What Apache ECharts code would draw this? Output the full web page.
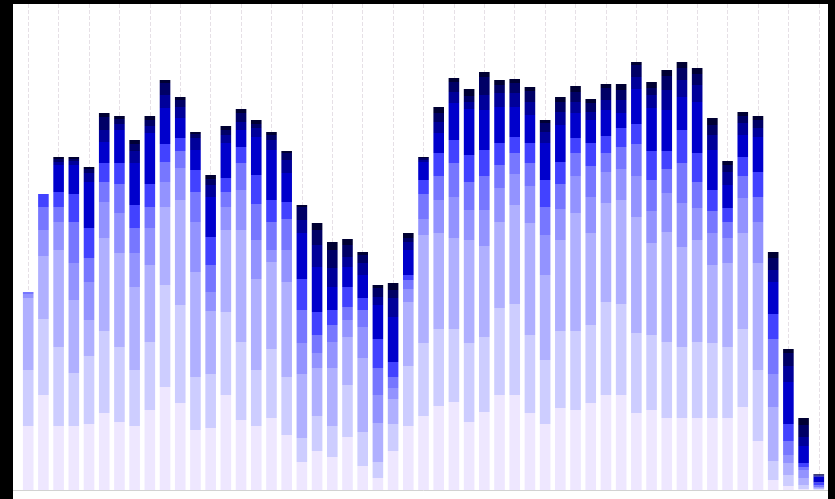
<!DOCTYPE html>
<html>
<head>
<meta charset="utf-8">
<script src="https://cdn.jsdelivr.net/npm/echarts@6/dist/echarts.min.js"></script>
<style>
html,body{margin:0;padding:0;background:#000;width:835px;height:499px;overflow:hidden;}
#frame{position:absolute;left:13px;top:4px;width:815px;height:495px;overflow:hidden;background:#fff;}
#chart{width:821px;height:495px;}
</style>
</head>
<body>
<div id="frame"><div id="chart"></div></div>
<script>
// 53 periods (no labels shown in the reference)
const categories = ['1','2','3','4','5','6','7','8','9','10','11','12','13','14','15','16','17','18','19','20','21','22','23','24','25','26','27','28','29','30','31','32','33','34','35','36','37','38','39','40','41','42','43','44','45','46','47','48','49','50','51','52','53'];

// stacked layers, bottom to top
const s0 = [64,95,64,64,66,77,68,64,80,103, 87,60,62,95,70,64,72,55,28,39, 33,53,24,12,39,64,74,84,88,68, 78,95,95,77,66,82,80,87,95,95, 77,80,72,72,72,72,72,83,49,10, 4,1,0.5];
const s1 = [56,76,79,53,68,82,75,56,68,102, 98,53,54,83,78,56,69,58,24,35, 31,52,34,16,27,60,73,77,73,79, 75,87,91,78,64,77,79,78,93,91, 80,75,76,71,76,75,71,78,71,19, 11,4,0.5];
const s2 = [72,63,97,73,36,93,94,83,77,78, 105,105,63,82,112,91,87,95,64,48, 58,48,74,39,25,64,108,96,91,103, 91,86,99,112,85,91,118,92,99,104, 116,92,110,100,102,78,84,96,107,54, 12,7,0.5];
const s3 = [4,26,28,37,38,36,40,34,37,25, 32,50,19,23,40,39,12,32,31,15, 26,17,31,28,11,13,16,33,41,30, 36,34,31,37,40,31,37,36,31,31, 41,32,39,44,32,32,25,35,41,33, 8,8,1];
const s4 = [2,23,15,41,24,20,29,25,21,20, 17,30,27,15,27,36,28,31,33,18, 17,13,17,27,11,9,25,24,34,28, 34,23,21,23,28,25,23,31,19,22, 32,31,24,40,26,22,16,22,25,35, 14,3,2];
const s5 = [0,13,15,28,30,19,21,23,23,18, 13,22,28,14,16,29,22,17,31,23, 15,20,12,29,15,5,14,23,23,27, 26,22,16,20,27,22,15,23,17,19, 20,29,18,33,29,21,14,19,25,25, 17,4,3];
const s6 = [0,0,27,29,46,21,33,42,51,36, 20,20,40,35,17,38,50,29,46,45, 23,20,23,34,45,25,18,20,37,46, 40,36,30,28,37,37,25,23,26,15, 35,43,41,33,51,40,23,22,35,32, 42,17,6];
const s7 = [0,0,3,4,9,12,6,12,7,13, 11,12,12,8,8,9,10,13,13,22, 19,10,12,8,19,8,2,11,11,7, 15,14,14,13,11,13,11,8,10,13, 12,13,20,17,17,15,13,12,9,12, 16,9,1];
const s8 = [0,0,3,2,4,13,5,7,6,12, 7,4,6,5,9,4,5,7,13,15, 18,12,8,9,8,4,2,9,10,6, 18,8,10,11,9,10,10,9,12,10, 12,7,14,12,11,10,7,7,8,12, 13,12,1];
const s9 = [0,0,2,2,2,4,3,4,4,3, 3,2,4,4,4,4,3,2,2,7, 8,6,3,3,7,5,1,6,4,7, 5,5,4,4,3,5,6,4,4,6, 3,6,6,6,6,7,4,4,4,6, 4,7,0.5];

const layers = [s0,s1,s2,s3,s4,s5,s6,s7,s8,s9];
const colors = ['#eee7ff','#cdcdff','#b0b0ff','#9393ff','#7777ff','#4242ff','#0000cc','#00009a','#000066','#000033'];

// one empty slot on each side of the axis
const axisCats = [''].concat(categories, ['']);

const chart = echarts.init(document.getElementById('chart'), null, {renderer:'canvas'});
chart.setOption({
  animation: false,
  backgroundColor: '#fff',
  grid: {left: 0, right: 0, top: 0, bottom: 9, containLabel: false},
  xAxis: {
    type: 'category',
    boundaryGap: false,
    data: axisCats,
    axisLine: {show: true, lineStyle: {color: '#d2d2d2', width: 1}},
    axisTick: {show: false},
    axisLabel: {show: false},
    splitLine: {
      show: true,
      interval: function (idx) { return idx % 2 === 1; },
      lineStyle: {type: 'dashed', color: '#e6e0e6', width: 1}
    }
  },
  yAxis: {type: 'value', min: 0, max: 486, show: false, splitLine: {show: false}},
  series: layers.map(function (arr, k) {
    return {
      type: 'bar',
      stack: 'total',
      barWidth: 10.6,
      itemStyle: {color: colors[k]},
      emphasis: {disabled: true},
      data: [null].concat(arr, [null])
    };
  })
});
</script>
</body>
</html>
